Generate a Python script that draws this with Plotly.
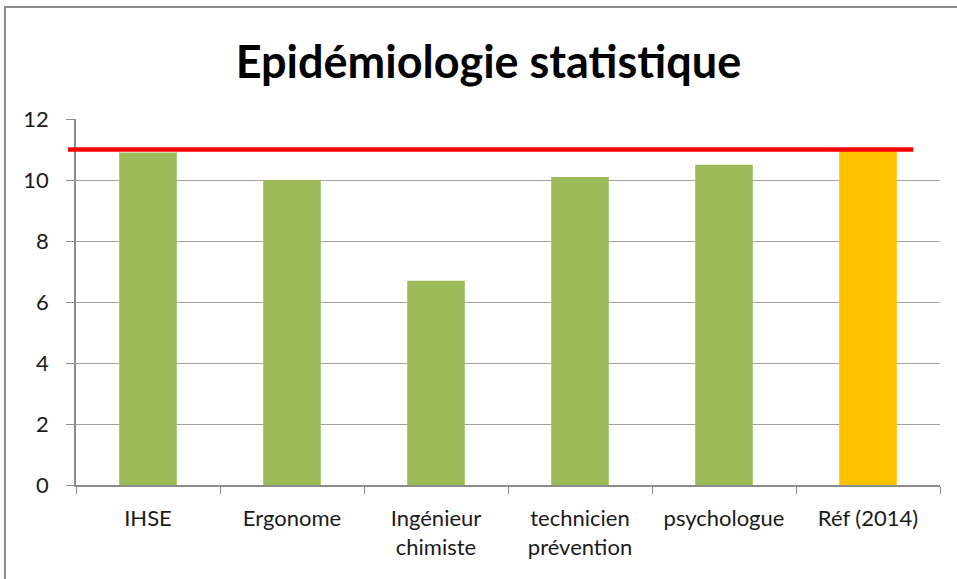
import plotly.graph_objects as go

categories = ["IHSE", "Ergonome", "Ingénieur<br>chimiste", "technicien<br>prévention",
              "psychologue", "Réf (2014)"]
values = [10.9, 10.0, 6.7, 10.1, 10.5, 11.0]
bar_colors = ["#9BBB59", "#9BBB59", "#9BBB59", "#9BBB59", "#9BBB59", "#FFC000"]
ref_value = 11
title_text = "Epidémiologie statistique"

fig = go.Figure()
fig.add_trace(go.Bar(x=categories, y=values, marker=dict(color=bar_colors, line=dict(width=0)),
                     width=0.4, showlegend=False, hoverinfo="x+y"))

# reference line (x in paper units so it doesn't stretch the category range)
fig.add_shape(type="line", xref="paper", yref="y", x0=-0.0093, x1=0.969, y0=ref_value, y1=ref_value,
              line=dict(color="#FF0000", width=4.5), layer="above")

# outer chart frame
fig.add_shape(type="rect", xref="paper", yref="paper", x0=-0.0822, x1=1.2, y0=-0.4, y1=1.306,
              line=dict(color="#8c8c8c", width=2), layer="below")

fig.update_xaxes(range=[-0.5, 5.5], showgrid=False, showline=True, linecolor="#8c8c8c", linewidth=1.5,
                 ticks="outside", tickson="boundaries", ticklen=7, tickcolor="#8c8c8c",
                 ticklabelstandoff=13,
                 tickfont=dict(family="Lato", size=22, color="#1a1a1a"))
fig.update_yaxes(range=[0, 12], dtick=2, showgrid=True, gridcolor="#a0a0a0", gridwidth=1.3,
                 showline=True, linecolor="#8c8c8c", linewidth=1.5, ticks="outside", ticklen=8,
                 tickcolor="#8c8c8c", zeroline=False, ticklabelstandoff=13,
                 tickfont=dict(family="Lato", size=22, color="#1a1a1a"))

fig.update_layout(
    title=dict(text=f"<b>{title_text}</b>", x=0.5104, xanchor="center", y=0.893, yanchor="middle",
               font=dict(family="Lato", size=45, color="#000000")),
    width=957, height=579,
    plot_bgcolor="white", paper_bgcolor="white",
    margin=dict(l=76, r=17, t=119, b=94),
)

# drop the default page margin so the figure sits at the window's top-left corner
fig.write_html("out.html", config={"displayModeBar": False},
               post_script="document.body.style.margin='0';")
